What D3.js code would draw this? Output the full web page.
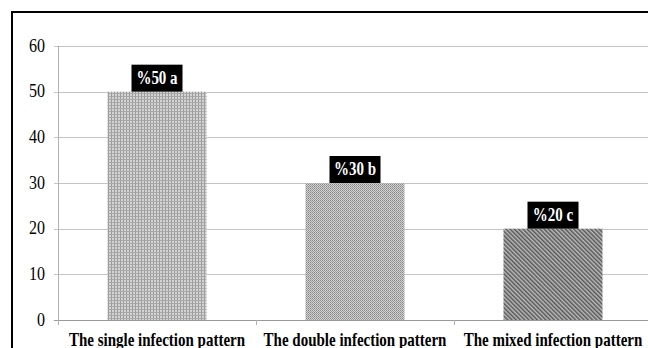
<!DOCTYPE html>
<html>
<head>
<meta charset="utf-8">
<script src="https://cdn.jsdelivr.net/npm/d3@7"></script>
<style>
  html, body { margin: 0; padding: 0; background: #fff; }
  svg { display: block; }
</style>
</head>
<body>
<svg id="chart" width="648" height="348"></svg>
<script>
// Infection pattern shares
const categories = ["The single infection pattern", "The double infection pattern", "The mixed infection pattern"];
const values = [50, 30, 20];
const labels = ["%50 a", "%30 b", "%20 c"];
const yTicks = [0, 10, 20, 30, 40, 50, 60];

const W = 648, H = 348;
const margin = { left: 58, top: 46 };
const serif = "Liberation Serif, Times New Roman, serif";
const svg = d3.select("#chart");

// Fill patterns for the three bars
const defs = svg.append("defs");
const p1 = defs.append("pattern").attr("id", "pat1").attr("patternUnits", "userSpaceOnUse")
  .attr("width", 3).attr("height", 3);
p1.append("rect").attr("width", 3).attr("height", 3).attr("fill", "#d4d4d4");
p1.append("rect").attr("width", 1).attr("height", 3).attr("fill", "#9a9a9a");
p1.append("rect").attr("width", 3).attr("height", 1).attr("fill", "#a8a8a8");

const p2 = defs.append("pattern").attr("id", "pat2").attr("patternUnits", "userSpaceOnUse")
  .attr("width", 2).attr("height", 2);
p2.append("rect").attr("width", 2).attr("height", 2).attr("fill", "#cfcfcf");
p2.append("rect").attr("width", 1).attr("height", 1).attr("fill", "#8a8a8a");
p2.append("rect").attr("x", 1).attr("y", 1).attr("width", 1).attr("height", 1).attr("fill", "#a0a0a0");

const p3 = defs.append("pattern").attr("id", "pat3").attr("patternUnits", "userSpaceOnUse")
  .attr("width", 3).attr("height", 3).attr("patternTransform", "rotate(-45)");
p3.append("rect").attr("width", 3).attr("height", 3).attr("fill", "#bdbdbd");
p3.append("rect").attr("width", 1.5).attr("height", 3).attr("fill", "#555");

const fills = ["url(#pat1)", "url(#pat2)", "url(#pat3)"];

// Outer frame
svg.append("rect").attr("x", 12).attr("y", 12).attr("width", 700).attr("height", 400)
  .attr("fill", "none").attr("stroke", "#000").attr("stroke-width", 2);

const x = d3.scaleBand().domain(categories).range([margin.left, 652]).paddingInner(0).paddingOuter(0);
const y = d3.scaleLinear().domain([0, 60]).range([320, margin.top]);

// Gridlines
svg.append("g").selectAll("line").data(yTicks).join("line")
  .attr("x1", margin.left - 4).attr("x2", W)
  .attr("y1", d => Math.round(y(d)) + 0.5).attr("y2", d => Math.round(y(d)) + 0.5)
  .attr("stroke", d => d === 0 ? "#9a9a9a" : "#c4c4c4").attr("stroke-width", 1);

// Y axis line
svg.append("line").attr("x1", margin.left + 0.5).attr("x2", margin.left + 0.5)
  .attr("y1", y(60)).attr("y2", y(0) + 5).attr("stroke", "#b0b0b0");

// Category boundary ticks
svg.append("g").selectAll("line").data(categories.slice(1)).join("line")
  .attr("x1", d => Math.round(x(d)) + 0.5).attr("x2", d => Math.round(x(d)) + 0.5)
  .attr("y1", y(0)).attr("y2", y(0) + 5).attr("stroke", "#b0b0b0");

// Y tick labels (slightly tall serif)
svg.append("g").selectAll("text").data(yTicks).join("text")
  .attr("transform", d => `translate(45,${y(d) + 5.5}) scale(1,1.2)`)
  .attr("text-anchor", "end")
  .attr("font-family", serif)
  .attr("font-size", 16).attr("fill", "#000")
  .text(d => d);

// Bars
const barW = x.bandwidth() * 0.5;
svg.append("g").selectAll("rect").data(values).join("rect")
  .attr("x", (d, i) => x(categories[i]) + (x.bandwidth() - barW) / 2)
  .attr("y", d => y(d))
  .attr("width", barW)
  .attr("height", d => y(0) - y(d))
  .attr("fill", (d, i) => fills[i]);

// Value labels in black boxes
const lab = svg.append("g").selectAll("g").data(values).join("g")
  .attr("transform", (d, i) => `translate(${x(categories[i]) + x.bandwidth() / 2},${y(d) - 14})`);
lab.append("rect").attr("x", -25.5).attr("y", -13).attr("width", 51).attr("height", 27)
  .attr("fill", "#000");
lab.append("text").attr("text-anchor", "middle")
  .attr("transform", "translate(0,6) scale(1,1.3)")
  .attr("font-family", serif)
  .attr("font-weight", "bold").attr("font-size", 15).attr("fill", "#fff")
  .text((d, i) => labels[i]);

// Category labels
svg.append("g").selectAll("text").data(categories).join("text")
  .attr("transform", d => `translate(${x(d) + x.bandwidth() / 2},346) scale(1,1.25)`)
  .attr("text-anchor", "middle")
  .attr("font-family", serif)
  .attr("font-weight", "bold").attr("font-size", 15).attr("fill", "#000")
  .text(d => d);
</script>
</body>
</html>
